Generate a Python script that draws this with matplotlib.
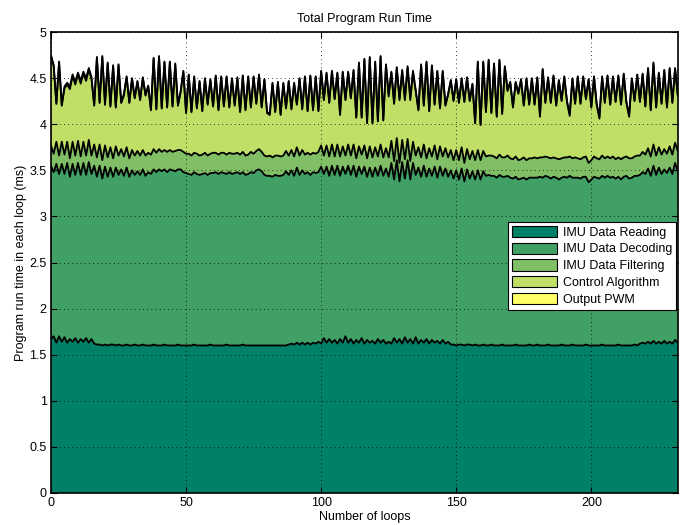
import numpy as np
import matplotlib
matplotlib.use('Agg')
import matplotlib.pyplot as plt

plt.rcParams['font.family'] = ['Liberation Sans', 'DejaVu Sans']

labels = ['IMU Data Reading', 'IMU Data Decoding', 'IMU Data Filtering',
          'Control Algorithm', 'Output PWM']

# run time per loop (ms), one value per loop
reading = [
    1.67, 1.70, 1.63, 1.70, 1.64, 1.69, 1.63, 1.67, 1.64, 1.68,
    1.63, 1.67, 1.64, 1.68, 1.63, 1.67, 1.62, 1.61, 1.61, 1.60,
    1.61, 1.60, 1.61, 1.61, 1.60, 1.61, 1.60, 1.60, 1.61, 1.60,
    1.60, 1.61, 1.60, 1.60, 1.61, 1.60, 1.60, 1.60, 1.61, 1.60,
    1.60, 1.60, 1.61, 1.60, 1.60, 1.60, 1.60, 1.61, 1.60, 1.60,
    1.60, 1.60, 1.60, 1.61, 1.60, 1.60, 1.60, 1.60, 1.60, 1.61,
    1.60, 1.60, 1.60, 1.60, 1.60, 1.61, 1.60, 1.60, 1.60, 1.60,
    1.60, 1.61, 1.60, 1.60, 1.60, 1.60, 1.60, 1.60, 1.60, 1.60,
    1.60, 1.60, 1.60, 1.60, 1.60, 1.60, 1.60, 1.60, 1.61, 1.62,
    1.61, 1.63, 1.61, 1.63, 1.61, 1.63, 1.61, 1.63, 1.62, 1.64,
    1.62, 1.68, 1.63, 1.67, 1.63, 1.66, 1.62, 1.67, 1.63, 1.70,
    1.63, 1.67, 1.62, 1.66, 1.63, 1.68, 1.62, 1.66, 1.63, 1.65,
    1.62, 1.67, 1.63, 1.66, 1.62, 1.64, 1.62, 1.68, 1.63, 1.67,
    1.62, 1.69, 1.63, 1.67, 1.62, 1.69, 1.62, 1.66, 1.63, 1.67,
    1.62, 1.66, 1.63, 1.65, 1.62, 1.66, 1.62, 1.64, 1.61, 1.61,
    1.60, 1.61, 1.61, 1.60, 1.61, 1.61, 1.60, 1.61, 1.60, 1.60,
    1.61, 1.60, 1.60, 1.61, 1.60, 1.60, 1.60, 1.61, 1.60, 1.60,
    1.60, 1.60, 1.61, 1.60, 1.60, 1.60, 1.60, 1.61, 1.60, 1.60,
    1.61, 1.60, 1.60, 1.60, 1.61, 1.60, 1.60, 1.60, 1.60, 1.61,
    1.60, 1.60, 1.60, 1.61, 1.60, 1.60, 1.60, 1.60, 1.61, 1.60,
    1.60, 1.60, 1.60, 1.60, 1.61, 1.60, 1.60, 1.60, 1.60, 1.60,
    1.61, 1.60, 1.60, 1.60, 1.60, 1.60, 1.61, 1.60, 1.62, 1.63,
    1.62, 1.64, 1.62, 1.65, 1.62, 1.64, 1.62, 1.65, 1.62, 1.64,
    1.62, 1.66, 1.63]

decoding = [
    1.88, 1.78, 1.94, 1.76, 1.93, 1.77, 1.95, 1.76, 1.93, 1.77,
    1.95, 1.78, 1.94, 1.77, 1.96, 1.79, 1.93, 1.82, 1.94, 1.81,
    1.93, 1.83, 1.92, 1.82, 1.93, 1.84, 1.91, 1.84, 1.92, 1.83,
    1.90, 1.84, 1.89, 1.85, 1.90, 1.84, 1.88, 1.86, 1.90, 1.88,
    1.91, 1.89, 1.90, 1.88, 1.91, 1.90, 1.89, 1.90, 1.91, 1.88,
    1.87, 1.86, 1.85, 1.87, 1.86, 1.85, 1.86, 1.87, 1.85, 1.86,
    1.87, 1.88, 1.86, 1.88, 1.87, 1.85, 1.88, 1.86, 1.87, 1.88,
    1.86, 1.87, 1.85, 1.86, 1.88, 1.87, 1.90, 1.91, 1.89, 1.85,
    1.84, 1.84, 1.83, 1.85, 1.84, 1.84, 1.85, 1.89, 1.84, 1.88,
    1.83, 1.90, 1.84, 1.87, 1.85, 1.85, 1.84, 1.85, 1.85, 1.84,
    1.92, 1.78, 1.91, 1.77, 1.92, 1.79, 1.93, 1.77, 1.91, 1.76,
    1.92, 1.78, 1.93, 1.77, 1.91, 1.78, 1.92, 1.77, 1.90, 1.78,
    1.91, 1.77, 1.92, 1.78, 1.90, 1.79, 1.96, 1.72, 1.98, 1.71,
    1.97, 1.72, 1.98, 1.73, 1.96, 1.76, 1.91, 1.77, 1.92, 1.76,
    1.90, 1.78, 1.91, 1.77, 1.92, 1.78, 1.90, 1.79, 1.89, 1.80,
    1.90, 1.79, 1.91, 1.78, 1.90, 1.80, 1.89, 1.79, 1.90, 1.80,
    1.88, 1.84, 1.85, 1.83, 1.84, 1.82, 1.85, 1.82, 1.83, 1.84,
    1.82, 1.81, 1.82, 1.80, 1.81, 1.82, 1.80, 1.81, 1.82, 1.82,
    1.81, 1.83, 1.82, 1.84, 1.82, 1.81, 1.83, 1.82, 1.80, 1.81,
    1.83, 1.82, 1.84, 1.81, 1.82, 1.82, 1.81, 1.83, 1.82, 1.77,
    1.80, 1.83, 1.82, 1.81, 1.83, 1.82, 1.84, 1.82, 1.83, 1.81,
    1.82, 1.80, 1.83, 1.84, 1.81, 1.82, 1.83, 1.84, 1.83, 1.85,
    1.84, 1.88, 1.82, 1.90, 1.83, 1.89, 1.84, 1.86, 1.85, 1.89,
    1.84, 1.92, 1.86]

filtering = [
    0.22, 0.20, 0.24, 0.20, 0.24, 0.21, 0.23, 0.20, 0.24, 0.21,
    0.24, 0.20, 0.23, 0.21, 0.24, 0.20, 0.23, 0.21, 0.23, 0.20,
    0.23, 0.21, 0.22, 0.20, 0.23, 0.21, 0.22, 0.21, 0.22, 0.20,
    0.22, 0.21, 0.22, 0.21, 0.21, 0.22, 0.21, 0.21, 0.22, 0.21,
    0.22, 0.21, 0.21, 0.22, 0.21, 0.20, 0.22, 0.21, 0.21, 0.22,
    0.21, 0.22, 0.21, 0.21, 0.22, 0.21, 0.21, 0.22, 0.21, 0.21,
    0.22, 0.21, 0.21, 0.21, 0.22, 0.21, 0.21, 0.22, 0.21, 0.21,
    0.21, 0.22, 0.21, 0.21, 0.22, 0.21, 0.21, 0.22, 0.21, 0.21,
    0.21, 0.22, 0.21, 0.21, 0.22, 0.21, 0.21, 0.22, 0.21, 0.22,
    0.21, 0.22, 0.21, 0.22, 0.21, 0.21, 0.22, 0.21, 0.21, 0.22,
    0.23, 0.20, 0.23, 0.21, 0.23, 0.20, 0.23, 0.21, 0.22, 0.20,
    0.23, 0.21, 0.23, 0.20, 0.22, 0.21, 0.23, 0.20, 0.23, 0.21,
    0.22, 0.21, 0.23, 0.20, 0.22, 0.21, 0.24, 0.20, 0.24, 0.20,
    0.24, 0.21, 0.23, 0.20, 0.23, 0.21, 0.22, 0.21, 0.23, 0.20,
    0.22, 0.21, 0.23, 0.20, 0.22, 0.21, 0.22, 0.21, 0.22, 0.20,
    0.22, 0.21, 0.23, 0.20, 0.22, 0.21, 0.22, 0.21, 0.22, 0.21,
    0.22, 0.21, 0.21, 0.22, 0.21, 0.21, 0.22, 0.21, 0.21, 0.22,
    0.21, 0.21, 0.22, 0.21, 0.21, 0.22, 0.21, 0.21, 0.21, 0.22,
    0.21, 0.21, 0.22, 0.21, 0.21, 0.22, 0.21, 0.21, 0.22, 0.21,
    0.21, 0.22, 0.21, 0.21, 0.22, 0.21, 0.21, 0.21, 0.22, 0.21,
    0.21, 0.22, 0.21, 0.21, 0.22, 0.21, 0.21, 0.21, 0.22, 0.21,
    0.21, 0.22, 0.21, 0.21, 0.22, 0.21, 0.21, 0.22, 0.21, 0.22,
    0.21, 0.22, 0.21, 0.23, 0.21, 0.22, 0.21, 0.22, 0.21, 0.23,
    0.21, 0.22, 0.22]

control = [
    0.97, 0.95, 0.41, 1.01, 0.39, 0.72, 0.62, 0.75, 0.71, 0.77,
    0.72, 0.79, 0.74, 0.81, 0.76, 0.83, 0.42, 1.08, 0.45, 1.12,
    0.44, 1.02, 0.44, 1.00, 0.42, 0.98, 0.50, 0.66, 0.76, 0.60,
    0.77, 0.62, 0.75, 0.60, 0.78, 0.65, 0.72, 0.48, 0.98, 0.47,
    1.00, 0.47, 0.95, 0.48, 0.95, 0.49, 0.94, 0.48, 0.63, 0.87,
    0.44, 0.85, 0.47, 0.82, 0.49, 0.80, 0.47, 0.80, 0.55, 0.80,
    0.50, 0.83, 0.48, 0.82, 0.50, 0.84, 0.49, 0.81, 0.52, 0.80,
    0.46, 0.82, 0.49, 0.84, 0.48, 0.83, 0.51, 0.80, 0.48, 0.82,
    0.47, 0.44, 0.80, 0.47, 0.79, 0.45, 0.78, 0.46, 0.80, 0.44,
    0.79, 0.46, 0.83, 0.44, 0.84, 0.45, 0.85, 0.46, 0.83, 0.44,
    0.80, 0.60, 0.78, 0.58, 0.79, 0.62, 0.77, 0.45, 0.80, 0.60,
    0.78, 0.62, 0.80, 0.44, 0.90, 0.40, 0.93, 0.38, 0.96, 0.37,
    0.92, 0.38, 0.95, 0.40, 0.90, 0.66, 0.74, 0.62, 0.76, 0.68,
    0.74, 0.64, 0.77, 0.66, 0.75, 0.70, 0.40, 1.00, 0.42, 1.04,
    0.40, 0.98, 0.44, 0.95, 0.41, 0.92, 0.46, 0.68, 0.75, 0.64,
    0.76, 0.62, 0.74, 0.66, 0.77, 0.63, 0.72, 0.40, 0.95, 0.38,
    0.96, 0.48, 1.03, 0.46, 1.00, 0.45, 1.02, 0.47, 0.98, 0.70,
    0.82, 0.56, 0.80, 0.72, 0.86, 0.56, 0.88, 0.58, 0.86, 0.57,
    0.87, 0.44, 0.95, 0.58, 0.86, 0.60, 0.88, 0.57, 0.85, 0.62,
    0.87, 0.60, 0.44, 0.86, 0.58, 0.88, 0.60, 0.87, 0.62, 0.90,
    0.57, 0.86, 0.58, 0.44, 0.85, 0.60, 0.87, 0.58, 0.86, 0.62,
    0.88, 0.59, 0.90, 0.58, 0.45, 0.86, 0.60, 0.87, 0.58, 0.84,
    0.52, 0.86, 0.50, 0.88, 0.52, 0.80, 0.55, 0.85, 0.50, 0.84,
    0.56, 0.80, 0.60]

pwm = [
    0.01, 0.01, 0.01, 0.01, 0.01, 0.02, 0.02, 0.03, 0.02, 0.03,
    0.02, 0.03, 0.02, 0.03, 0.02, 0.02, 0.01, 0.01, 0.01, 0.01,
    0.01, 0.01, 0.01, 0.01, 0.01, 0.01, 0.01, 0.02, 0.01, 0.01,
    0.01, 0.01, 0.01, 0.01, 0.01, 0.01, 0.01, 0.01, 0.01, 0.01,
    0.01, 0.01, 0.01, 0.01, 0.01, 0.01, 0.01, 0.01, 0.01, 0.01,
    0.01, 0.01, 0.01, 0.01, 0.01, 0.01, 0.01, 0.01, 0.01, 0.01,
    0.01, 0.01, 0.01, 0.01, 0.01, 0.01, 0.01, 0.01, 0.01, 0.02,
    0.01, 0.01, 0.01, 0.01, 0.01, 0.01, 0.01, 0.01, 0.01, 0.01,
    0.01, 0.02, 0.01, 0.01, 0.01, 0.01, 0.01, 0.01, 0.01, 0.01,
    0.01, 0.01, 0.01, 0.01, 0.01, 0.01, 0.01, 0.01, 0.01, 0.01,
    0.01, 0.01, 0.01, 0.01, 0.01, 0.01, 0.01, 0.01, 0.01, 0.01,
    0.01, 0.01, 0.01, 0.01, 0.01, 0.01, 0.01, 0.01, 0.01, 0.01,
    0.01, 0.01, 0.01, 0.01, 0.01, 0.02, 0.01, 0.02, 0.01, 0.02,
    0.02, 0.02, 0.02, 0.03, 0.02, 0.01, 0.01, 0.01, 0.01, 0.01,
    0.01, 0.01, 0.01, 0.01, 0.01, 0.01, 0.01, 0.01, 0.01, 0.01,
    0.01, 0.01, 0.01, 0.01, 0.01, 0.01, 0.01, 0.01, 0.01, 0.01,
    0.01, 0.01, 0.01, 0.01, 0.01, 0.01, 0.01, 0.01, 0.01, 0.01,
    0.01, 0.01, 0.01, 0.01, 0.01, 0.01, 0.01, 0.01, 0.01, 0.01,
    0.01, 0.02, 0.01, 0.01, 0.01, 0.01, 0.01, 0.01, 0.01, 0.01,
    0.01, 0.01, 0.02, 0.01, 0.01, 0.01, 0.01, 0.01, 0.01, 0.01,
    0.01, 0.01, 0.01, 0.02, 0.01, 0.01, 0.01, 0.01, 0.01, 0.01,
    0.01, 0.01, 0.01, 0.01, 0.02, 0.01, 0.01, 0.01, 0.01, 0.01,
    0.01, 0.01, 0.01, 0.01, 0.01, 0.01, 0.01, 0.01, 0.01, 0.01,
    0.01, 0.01, 0.01]

# matlab "summer" colormap, 5 levels
colors = ['#008066', '#40a066', '#80bf66', '#bfdf66', '#ffff66']

series = [reading, decoding, filtering, control, pwm]
loops = np.arange(len(reading))

fig = plt.figure(figsize=(6.86, 5.25), dpi=100)
ax = fig.add_axes([0.0743, 0.061, 0.9137, 0.878])

ax.stackplot(loops, *series, colors=colors, labels=labels,
             edgecolor='none', linewidth=0)
tops = np.cumsum(np.array(series), axis=0)
for top in tops:
    ax.plot(loops, top, color='black', lw=1.3, zorder=2)

ax.set_xlim(0, loops[-1])
ax.set_ylim(0, 5)
ax.set_xticks([0, 50, 100, 150, 200])
ax.set_yticks(np.arange(0, 5.01, 0.5))
ax.set_yticklabels(['0', '0.5', '1', '1.5', '2', '2.5', '3', '3.5', '4', '4.5', '5'])
ax.tick_params(direction='in', top=True, right=True, labelsize=9, length=4, width=0.8, pad=3)
ax.set_axisbelow(False)
ax.grid(True, color='black', linestyle=(0, (1, 4)), linewidth=0.6)
for s in ax.spines.values():
    s.set_linewidth(1.2)

ax.set_title('Total Program Run Time', fontsize=9, pad=7)
ax.set_xlabel('Number of loops', fontsize=9, labelpad=1)
ax.set_ylabel('Program run time in each loop (ms)', fontsize=9, labelpad=2)

leg = ax.legend(loc='upper right', bbox_to_anchor=(0.997, 0.588), borderaxespad=0,
                fontsize=9, fancybox=False, framealpha=1, edgecolor='black',
                handlelength=3.6, handleheight=1.0, labelspacing=0.32,
                borderpad=0.3, handletextpad=0.45)
leg.get_frame().set_linewidth(0.8)
for h in leg.legend_handles:
    h.set_edgecolor('black')
    h.set_linewidth(0.8)

fig.savefig('out.png', dpi=100)
